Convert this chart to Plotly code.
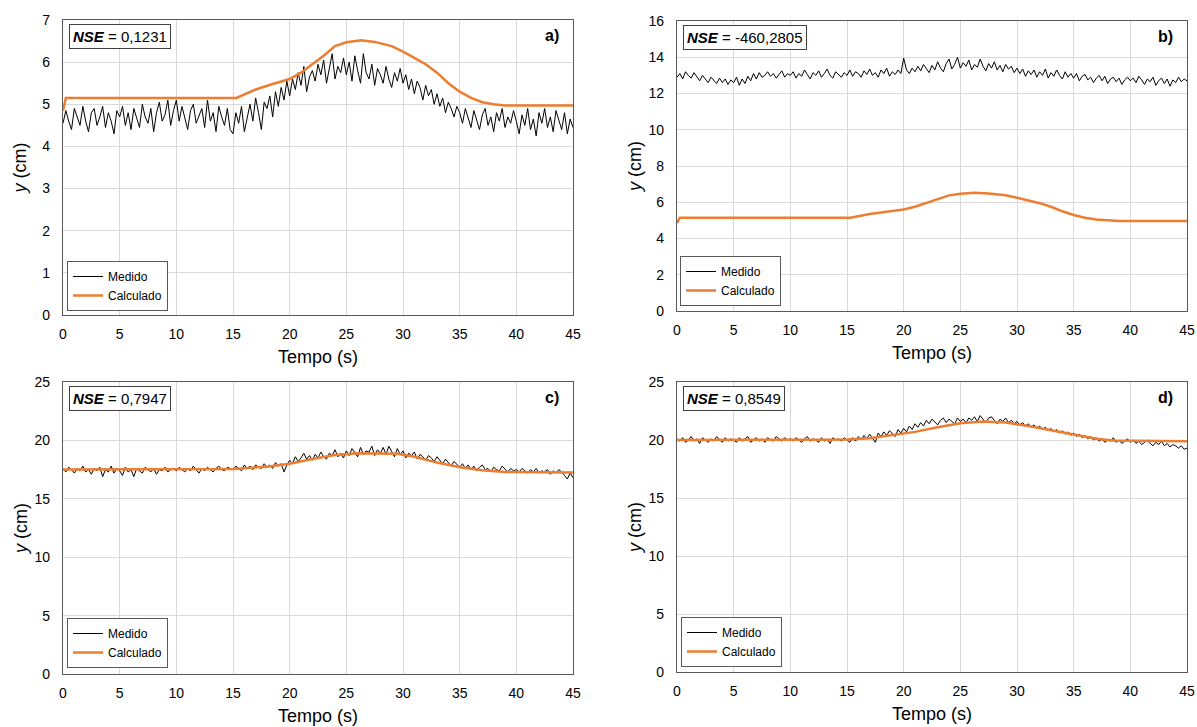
import plotly.graph_objects as go

# ---------------- data ----------------
# measured series sampled every 0.25 s from 0 to 45 s
t_med = [i * 0.25 for i in range(181)]

med_a = [4.55, 4.85, 4.6, 4.4, 4.9, 4.7, 4.5, 4.95, 4.6, 4.35, 4.8, 4.9, 4.5, 4.7, 4.95, 4.45, 4.8, 4.6, 4.3, 4.85,
         4.7, 4.95, 4.5, 4.8, 4.4, 4.9, 4.65, 4.45, 5.0, 4.7, 4.55, 4.9, 4.35, 4.8, 5.05, 4.6, 4.75, 5.1, 4.5, 4.85,
         5.1, 4.6, 4.95, 4.7, 4.4, 4.85, 5.0, 4.55, 4.75, 4.9, 4.45, 5.1, 4.6, 4.8, 4.35, 4.95, 4.7, 4.5, 4.9, 4.4,
         4.3, 4.8, 4.55, 4.95, 4.35, 4.7, 5.0, 4.6, 5.15, 4.8, 4.4, 5.05, 4.9, 5.2, 4.7, 5.3, 4.95, 5.4, 5.1, 5.55,
         5.2, 5.6, 5.35, 5.75, 5.45, 5.9, 5.3, 5.65, 5.8, 5.55, 5.95, 5.7, 6.05, 5.5, 5.85, 6.2, 5.6, 5.9, 5.75, 6.1,
         5.7, 6.0, 5.55, 6.15, 5.8, 5.5, 6.2, 5.75, 5.6, 5.95, 5.45, 5.85, 5.7, 5.5, 5.9, 5.6, 5.4, 5.75, 5.55, 5.85,
         5.5, 5.7, 5.35, 5.6, 5.25, 5.55, 5.4, 5.1, 5.45, 5.2, 5.35, 5.0, 5.25, 4.95, 5.15, 4.8, 5.05, 4.9, 4.7, 4.95,
         4.8, 4.55, 4.9, 4.65, 4.45, 4.85, 4.6, 4.4, 4.75, 4.9, 4.5, 4.7, 4.35, 4.8, 4.6, 4.9, 4.45, 4.7, 4.55, 4.85,
         4.6, 4.3, 4.75, 4.5, 4.9, 4.4, 4.65, 4.25, 4.8, 4.55, 4.9, 4.45, 4.7, 4.35, 4.85, 4.6, 4.4, 4.8, 4.3, 4.65, 4.45]

med_b = [12.9, 13.1, 12.8, 13.2, 13.0, 12.85, 13.15, 12.95, 12.7, 13.0, 12.8, 12.6, 12.9, 12.7, 12.55, 12.85, 12.6, 12.8, 12.5, 12.75,
         12.6, 12.9, 12.45, 12.8, 12.55, 12.95, 12.7, 13.1, 12.8, 13.15, 12.9, 13.0, 13.2, 12.95, 13.1, 12.85, 13.05, 13.25, 12.9, 13.1,
         13.0, 13.2, 12.85, 13.1, 12.95, 13.3, 13.05, 12.8, 13.15, 13.0, 13.25, 12.9, 13.1, 13.35, 13.0, 12.85, 13.2, 13.05, 12.9, 13.15,
         13.0, 13.3, 12.95, 13.2, 13.1, 12.9, 13.25, 13.05, 13.35, 13.0, 13.15, 12.9, 13.3, 13.1, 13.4, 12.95, 13.2, 13.05, 13.3, 13.1,
         13.95, 13.3, 13.1, 13.4, 13.2, 13.5, 13.25, 13.6, 13.35, 13.15, 13.55, 13.3, 13.75, 13.4, 13.2, 13.65, 13.9, 13.35, 13.6, 14.0,
         13.4, 13.7, 13.5, 13.85, 13.3, 13.6, 13.45, 13.9, 13.5, 13.25, 13.65, 13.4, 13.75, 13.3, 13.55, 13.2, 13.6, 13.35, 13.5, 13.15,
         13.4, 13.1, 13.35, 12.95, 13.25, 13.05, 13.3, 12.9, 13.2, 13.0, 13.35, 12.85, 13.15, 12.95, 13.3, 13.0, 12.8, 13.2, 12.9, 13.1,
         12.85, 13.1, 12.7, 12.95, 13.05, 12.75, 12.9, 12.6, 12.85, 13.0, 12.7, 12.95, 12.55, 12.8, 12.9, 12.65, 12.85, 12.5, 12.75, 12.9,
         12.7, 12.85, 12.6, 12.95, 12.75, 12.5, 12.8, 12.65, 12.9, 12.45, 12.7, 12.85, 12.55, 12.8, 12.4, 12.75, 12.6, 12.9, 12.65, 12.8, 12.7]

med_c = [17.6, 17.3, 17.7, 17.5, 17.2, 17.6, 17.4, 17.8, 17.3, 17.5, 17.1, 17.6, 17.4, 17.7, 16.9, 17.5, 17.3, 17.8, 17.2, 17.6,
         17.4, 17.0, 17.7, 17.3, 17.5, 16.9, 17.6, 17.4, 17.2, 17.7, 17.5, 17.3, 17.6, 17.1, 17.5, 17.4, 17.7, 17.3, 17.5, 17.6,
         17.4, 17.7, 17.5, 17.3, 17.6, 17.4, 17.8, 17.5, 17.2, 17.6, 17.4, 17.7, 17.5, 17.3, 17.6, 17.8, 17.5, 17.4, 17.7, 17.6,
         17.5, 17.8, 17.6, 17.4, 17.9, 17.6, 17.8, 17.5, 17.9, 17.7, 17.6, 18.0, 17.7, 17.9, 17.6, 18.1, 17.8, 18.0, 17.3, 17.9,
         18.3, 18.0, 18.6, 18.2, 18.5, 18.9, 18.4, 18.7, 18.3, 18.8, 18.5, 19.0, 18.6, 18.4, 18.9, 18.7, 19.2, 18.6, 18.9, 18.5,
         19.1, 18.7, 19.3, 18.9, 18.6, 19.4, 18.8, 19.1, 19.0, 19.5, 18.7, 19.2, 18.9, 19.4, 18.8, 19.5, 19.0, 18.6, 19.3, 18.8,
         19.1, 18.5, 18.9, 18.7, 19.0, 18.4, 18.8, 18.6, 18.3, 18.7, 18.5, 18.2, 18.6, 18.3, 18.0, 18.4, 18.1, 17.8, 18.2, 17.9,
         17.7, 18.0, 17.6, 17.9, 17.5, 17.8, 17.4, 17.7, 17.9, 17.5, 17.6, 17.3, 17.7, 17.5, 17.4, 17.8, 17.5, 17.3, 17.6, 17.4,
         17.5, 17.3, 17.6, 17.4, 17.2, 17.5, 17.3, 17.6, 17.2, 17.4, 17.3, 17.5, 17.1, 17.4, 17.2, 17.5, 17.3, 17.0, 16.7, 17.2, 16.8]

med_d = [20.1, 19.9, 20.2, 19.8, 20.0, 20.3, 19.9, 20.1, 19.7, 20.2, 20.0, 19.8, 20.1, 19.9, 20.3, 20.0, 19.8, 20.2, 19.9, 20.1,
         20.0, 19.8, 20.2, 19.9, 20.1, 20.3, 19.8, 20.0, 20.2, 19.9, 20.1, 19.8, 20.2, 20.0, 19.9, 20.3, 20.1, 19.9, 20.2, 20.0,
         20.1, 19.9, 20.2, 20.0, 19.8, 20.1, 20.3, 19.9, 20.1, 20.0, 19.8, 20.2, 19.9, 20.1, 19.7, 20.2, 20.0, 20.1, 19.9, 20.2,
         20.0, 19.8, 20.2, 19.9, 20.3, 20.0, 20.4, 20.1, 20.5, 20.2, 19.8, 20.6, 20.3, 20.7, 20.4, 20.8, 20.5, 20.3, 20.9, 20.6,
         21.0, 20.7, 21.2, 20.9, 21.4, 21.1, 21.5, 21.2, 21.7, 21.4, 21.8, 21.5, 21.3, 21.7, 21.9, 21.5, 21.8, 21.6, 21.4, 21.9,
         21.6, 21.8, 21.5, 21.9, 21.7, 22.0, 21.6, 22.1, 21.8, 21.5, 21.9, 22.0, 21.7, 21.4, 21.8, 21.6, 21.9, 21.5, 21.7, 21.4,
         21.6, 21.3, 21.5, 21.2, 21.4, 21.1, 21.3, 21.0, 21.2, 20.9, 21.1, 20.8, 21.0, 20.7, 20.9, 20.6, 20.8, 20.5, 20.7, 20.4,
         20.6, 20.3, 20.5, 20.2, 20.4, 20.1, 20.3, 20.0, 20.2, 19.9, 20.1, 19.8, 20.0, 19.9, 20.2, 19.8, 20.0, 19.7, 19.9, 20.1,
         19.8, 20.0, 19.7, 19.9, 19.6, 19.8, 20.0, 19.7, 19.5, 19.8, 19.6, 19.9, 19.5, 19.7, 19.4, 19.6, 19.5, 19.3, 19.5, 19.2, 19.3]

# calculated series (smooth model output)
t_calc_ab = [0, 0.25, 15.3, 17, 18.5, 20, 21, 22, 23, 24, 25, 26.3, 27.5, 29, 30, 31, 32, 33, 34, 35, 36, 37, 38, 39, 45]
calc_ab = [4.85, 5.15, 5.15, 5.35, 5.48, 5.6, 5.75, 5.95, 6.15, 6.38, 6.47, 6.52, 6.48, 6.38, 6.25, 6.1, 5.95, 5.75, 5.5,
           5.3, 5.15, 5.05, 5.0, 4.97, 4.97]

t_calc_c = [0, 15, 18, 20, 22, 24, 26, 28, 29.5, 31, 33, 35, 37, 39, 45]
calc_c = [17.5, 17.55, 17.75, 18.0, 18.4, 18.75, 18.9, 18.9, 18.85, 18.6, 18.1, 17.7, 17.45, 17.3, 17.25]

t_calc_d = [0, 15, 17, 19, 21, 23, 25, 27, 29, 31, 33, 35, 37, 38.5, 45]
calc_d = [20.0, 20.05, 20.15, 20.4, 20.7, 21.1, 21.45, 21.6, 21.5, 21.2, 20.85, 20.45, 20.1, 19.95, 19.9]

panel_labels = ["a)", "b)", "c)", "d)"]
nse_values = ["0,1231", "-460,2805", "0,7947", "0,8549"]
y_ranges = [(0, 7), (0, 16), (0, 25), (0, 25)]
y_dticks = [1, 2, 5, 5]

# ---------------- figure ----------------
W, H = 1197, 727
FONT = "Liberation Sans, Arial, sans-serif"
BLACK = "#000000"
ORANGE = "#ED7D31"
GRID = "#d9d9d9"
FRAME = "#595959"

# pixel boxes of plot areas: (left, right, top, bottom)
boxes = [(63, 573, 20, 315), (677, 1187, 21, 311), (63, 573, 382, 674), (677, 1187, 382, 672)]
legend_pos = [(67, 311), (680, 306), (67, 668), (681, 667)]
ytitle_standoff = [10, 2, 2, 2]

meas = [med_a, med_b, med_c, med_d]
calcs = [(t_calc_ab, calc_ab), (t_calc_ab, calc_ab), (t_calc_c, calc_c), (t_calc_d, calc_d)]

fig = go.Figure()
layout = dict(width=W, height=H, margin=dict(l=0, r=0, t=0, b=0),
              paper_bgcolor="white", plot_bgcolor="white",
              font=dict(family=FONT, color=BLACK, size=14), annotations=[])

for i in range(4):
    sfx = "" if i == 0 else str(i + 1)
    xa, ya = "x" + sfx, "y" + sfx
    lg = "legend" + sfx
    fig.add_trace(go.Scatter(x=t_med, y=meas[i], mode="lines", name="Medido",
                             line=dict(color=BLACK, width=1), xaxis=xa, yaxis=ya, legend=lg))
    fig.add_trace(go.Scatter(x=calcs[i][0], y=calcs[i][1], mode="lines", name="Calculado",
                             line=dict(color=ORANGE, width=2.5), xaxis=xa, yaxis=ya, legend=lg))
    l, r, t, b = boxes[i]
    layout["xaxis" + sfx] = dict(domain=[l / W, r / W], anchor=ya, range=[0, 45], dtick=5,
                                 showgrid=True, gridcolor=GRID, gridwidth=1, zeroline=False,
                                 showline=True, mirror=True, linecolor=FRAME, linewidth=1.3,
                                 ticks="", ticklabelstandoff=6, automargin=False,
                                 tickfont=dict(size=14, color=BLACK),
                                 title=dict(text="Tempo (s)", standoff=9, font=dict(size=18, color=BLACK)))
    layout["yaxis" + sfx] = dict(domain=[1 - b / H, 1 - t / H], anchor=xa, range=list(y_ranges[i]),
                                 dtick=y_dticks[i], showgrid=True, gridcolor=GRID, gridwidth=1,
                                 zeroline=False, showline=True, mirror=True, linecolor=FRAME,
                                 linewidth=1.3, ticks="", ticklabelstandoff=9, automargin=False,
                                 tickfont=dict(size=14, color=BLACK),
                                 title=dict(text="<i>y</i> (cm)", standoff=ytitle_standoff[i],
                                            font=dict(size=18, color=BLACK)))
    lx, lb = legend_pos[i]
    layout[lg] = dict(x=lx / W, y=1 - lb / H, xanchor="left", yanchor="bottom",
                      bgcolor="white", bordercolor=FRAME, borderwidth=1,
                      font=dict(size=12, color=BLACK), tracegroupgap=0, itemwidth=30)
    layout["annotations"].append(dict(
        xref=xa + " domain", yref=ya + " domain", x=6 / (r - l), y=1 - 4 / (b - t),
        xanchor="left", yanchor="top", showarrow=False,
        text="<b><i>NSE</i></b> = " + nse_values[i], font=dict(size=15, color=BLACK),
        bgcolor="white", bordercolor="#404040", borderwidth=1, borderpad=3))
    layout["annotations"].append(dict(
        xref=xa + " domain", yref=ya + " domain", x=1 - 12 / (r - l), y=1 - 5 / (b - t),
        xanchor="right", yanchor="top", showarrow=False,
        text="<b>" + panel_labels[i] + "</b>", font=dict(size=16, color=BLACK)))

fig.update_layout(**layout)
fig.write_html("out.html")
